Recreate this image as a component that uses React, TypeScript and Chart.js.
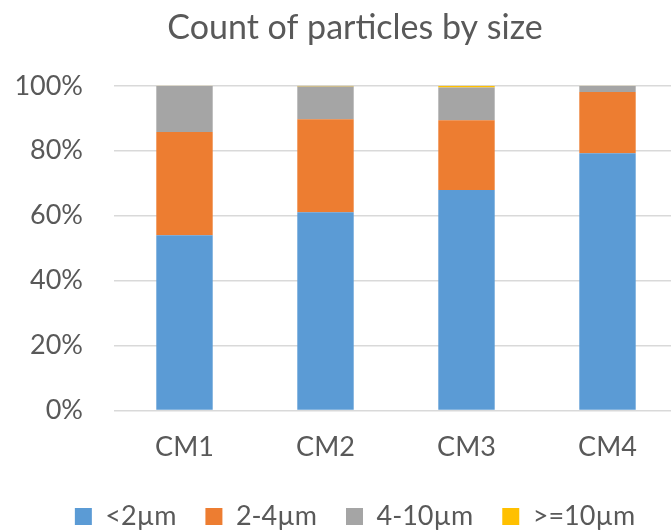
import React, { useEffect, useRef } from "react";
import { Chart, registerables } from "chart.js";

Chart.register(...registerables);

const categories = ["CM1", "CM2", "CM3", "CM4"];
const seriesNames = ["<2µm", "2-4µm", "4-10µm", ">=10µm"];
const small = [54.0, 61.1, 67.9, 79.2];
const medium = [31.8, 28.6, 21.5, 18.9];
const large = [14.1, 10.1, 10.1, 1.8];
const xlarge = [0.1, 0.2, 0.5, 0.1];
const yTicks = ["0%", "20%", "40%", "60%", "80%", "100%"];
const colors = ["#5B9BD5", "#ED7D31", "#A5A5A5", "#FFC000"];

const FONT = "Lato, 'Open Sans', sans-serif";
const TEXT = "#595959";

export default function App() {
  const ref = useRef<HTMLCanvasElement>(null);
  useEffect(() => {
    if (!ref.current) return;
    const values = [small, medium, large, xlarge];
    const chart = new Chart(ref.current, {
      type: "bar",
      data: {
        labels: categories,
        datasets: seriesNames.map((name, i) => ({
          label: name,
          data: values[i],
          backgroundColor: colors[i],
          borderWidth: 0,
          barPercentage: 0.4,
          categoryPercentage: 1,
        })),
      },
      options: {
        animation: false,
        responsive: false,
        maintainAspectRatio: false,
        layout: { padding: { left: 0, right: 0, top: 2, bottom: -9 } },
        plugins: {
          title: {
            display: true,
            text: "Count of particles by size",
            color: TEXT,
            font: { family: FONT, size: 34, weight: "normal" },
            padding: { top: 6, bottom: 37 },
          },
          legend: {
            position: "bottom",
            labels: {
              color: TEXT,
              font: { family: FONT, size: 27 },
              boxWidth: 17,
              boxHeight: 17,
              padding: 29,
            },
          },
          tooltip: { enabled: false },
        },
        scales: {
          x: {
            stacked: true,
            grid: { display: false, drawTicks: false },
            border: { display: false },
            afterFit: (s: any) => {
              s.height = s.height - 9;
            },
            ticks: {
              color: TEXT,
              font: { family: FONT, size: 27 },
              padding: 20,
            },
          },
          y: {
            stacked: true,
            min: 0,
            max: 100,
            afterFit: (s: any) => {
              s.width = 114;
            },
            grid: { color: "#D9D9D9", lineWidth: 1.5, drawTicks: false },
            border: { display: false },
            ticks: {
              stepSize: 20,
              color: TEXT,
              font: { family: FONT, size: 27 },
              padding: 31,
              callback: (_v: any, i: number) => yTicks[i],
            },
          },
          yRight: {
            position: "right",
            display: true,
            grid: { display: false, drawTicks: false },
            border: { display: false },
            ticks: { display: false },
            afterFit: (s: any) => {
              s.width = 32;
            },
          },
        },
      },
    });
    return () => chart.destroy();
  }, []);
  return (
    <div
      style={{
        position: "fixed",
        left: 0,
        top: 0,
        width: 671,
        height: 531,
        overflow: "hidden",
        background: "#fff",
      }}
    >
      <canvas ref={ref} width={710} height={531} style={{ display: "block" }} />
    </div>
  );
}
